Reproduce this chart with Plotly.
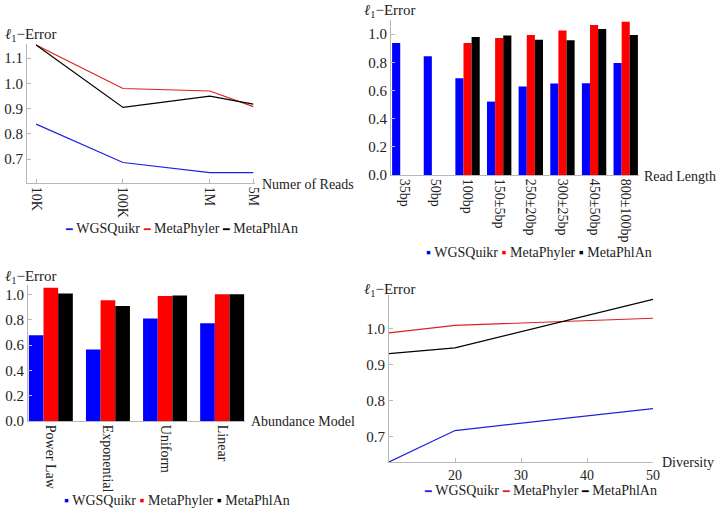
import plotly.graph_objects as go

# ---------------- data ----------------
series_names = ["WGSQuikr", "MetaPhyler", "MetaPhlAn"]
line_colors = ["#2020e0", "#e02020", "#000000"]
bar_colors = ["#0000ff", "#ff0000", "#000000"]

# panel 1: number of reads
reads_labels = ["10K", "100K", "1M", "5M"]
reads_pos = [0, 1, 2, 2.5]
reads_wgs = [0.839, 0.687, 0.647, 0.647]
reads_mphy = [1.152, 0.980, 0.970, 0.908]
reads_mphl = [1.152, 0.905, 0.950, 0.918]

# panel 2: read length
rl_labels = ["35bp", "50bp", "100bp", "150±5bp", "250±20bp", "300±25bp", "450±50bp", "800±100bp"]
rl_wgs = [0.936, 0.843, 0.687, 0.521, 0.628, 0.649, 0.651, 0.794]
rl_mphy = [None, None, 0.936, 0.972, 0.994, 1.026, 1.064, 1.087]
rl_mphl = [None, None, 0.979, 0.990, 0.960, 0.957, 1.036, 0.993]

# panel 3: abundance model
ab_labels = ["Power Law", "Exponential", "Uniform", "Linear"]
ab_wgs = [0.678, 0.565, 0.810, 0.773]
ab_mphy = [1.055, 0.955, 0.989, 1.003]
ab_mphl = [1.008, 0.910, 0.992, 1.003]

# panel 4: diversity
div_x = [10, 20, 50]
div_wgs = [0.628, 0.716, 0.777]
div_mphy = [0.989, 1.010, 1.030]
div_mphl = [0.931, 0.947, 1.083]

FONT = "Liberation Serif"
W, H = 718, 512

def px_x(p):
    return p / W

def px_y(p):
    return 1 - p / H

fig = go.Figure()

for name, col, vals in zip(series_names, line_colors, [reads_wgs, reads_mphy, reads_mphl]):
    fig.add_trace(go.Scatter(x=reads_pos, y=vals, mode="lines", name=name,
                             line=dict(color=col, width=1.2), xaxis="x", yaxis="y",
                             showlegend=False))
for name, col, vals in zip(series_names, bar_colors, [rl_wgs, rl_mphy, rl_mphl]):
    fig.add_trace(go.Bar(x=rl_labels, y=vals, name=name, marker=dict(color=col, line=dict(width=0)),
                         xaxis="x2", yaxis="y2", showlegend=False))
for name, col, vals in zip(series_names, bar_colors, [ab_wgs, ab_mphy, ab_mphl]):
    fig.add_trace(go.Bar(x=ab_labels, y=vals, name=name, marker=dict(color=col, line=dict(width=0)),
                         xaxis="x3", yaxis="y3", showlegend=False))
for name, col, vals in zip(series_names, line_colors, [div_wgs, div_mphy, div_mphl]):
    fig.add_trace(go.Scatter(x=div_x, y=vals, mode="lines", name=name,
                             line=dict(color=col, width=1.2), xaxis="x4", yaxis="y4",
                             showlegend=False))

axis_common = dict(showgrid=False, zeroline=False, showline=True, linecolor="#b8b8b8",
                   linewidth=1, ticks="inside", ticklen=4, tickcolor="#b8b8b8",
                   tickfont=dict(family=FONT, size=15, color="#222"))
xtick_font = dict(family=FONT, size=14, color="#222")

fig.update_layout(
    autosize=True,
    margin=dict(l=0, r=0, t=0, b=0, autoexpand=False),
    paper_bgcolor="white", plot_bgcolor="white",
    barmode="group", bargap=0.23,
    font=dict(family=FONT, color="#222"),
    xaxis=dict(axis_common, domain=[px_x(27), px_x(255)], range=[-0.105, 2.52],
               tickvals=reads_pos, ticktext=reads_labels, tickangle=90, anchor="y",
               tickfont=xtick_font),
    yaxis=dict(axis_common, domain=[px_y(183), px_y(44)], range=[0.606, 1.156],
               tickvals=[0.7, 0.8, 0.9, 1.0, 1.1], ticktext=["0.7", "0.8", "0.9", "1.0", "1.1"],
               anchor="x"),
    xaxis2=dict(axis_common, domain=[px_x(391), px_x(639)], range=[-0.42, 7.42],
                tickangle=90, anchor="y2", ticks="", tickfont=xtick_font),
    yaxis2=dict(axis_common, domain=[px_y(175), px_y(20)], range=[0, 1.10],
                tickvals=[0, 0.2, 0.4, 0.6, 0.8, 1.0],
                ticktext=["0.0", "0.2", "0.4", "0.6", "0.8", "1.0"], anchor="x2"),
    xaxis3=dict(axis_common, domain=[px_x(28), px_x(245)], range=[-0.4, 3.4],
                tickangle=90, anchor="y3", ticks="", tickfont=xtick_font),
    yaxis3=dict(axis_common, domain=[px_y(421), px_y(285)], range=[0, 1.076],
                tickvals=[0, 0.2, 0.4, 0.6, 0.8, 1.0],
                ticktext=["0.0", "0.2", "0.4", "0.6", "0.8", "1.0"], anchor="x3"),
    xaxis4=dict(axis_common, domain=[px_x(389), px_x(653)], range=[10, 50],
                tickvals=[20, 30, 40, 50], anchor="y4", tickfont=xtick_font),
    yaxis4=dict(axis_common, domain=[px_y(462), px_y(295)], range=[0.628, 1.095],
                tickvals=[0.7, 0.8, 0.9, 1.0], ticktext=["0.7", "0.8", "0.9", "1.0"], anchor="x4"),
)


def add_text(text, x, y, xanchor="left", yanchor="middle", size=14):
    fig.add_annotation(text=text, x=px_x(x), y=px_y(y), xref="paper", yref="paper",
                       xanchor=xanchor, yanchor=yanchor, showarrow=False,
                       font=dict(family=FONT, size=size, color="#222"))

ylab = "<i>ℓ</i><sub>1</sub>−Error"
add_text(ylab, 3, 24, yanchor="top", size=15)
add_text(ylab, 362, 0, yanchor="top", size=15)
add_text(ylab, 3, 266, yanchor="top", size=15)
add_text(ylab, 362, 279, yanchor="top", size=15)

add_text("Numer of Reads", 260, 184)
add_text("Read Length", 642, 176)
add_text("Abundance Model", 249, 421)
add_text("Diversity", 660, 462)


def legend_text(symbol, colors, sym_size):
    parts = []
    for name, col in zip(series_names, colors):
        parts.append(f'<span style="color:{col};font-size:{sym_size}px">{symbol}</span> {name}')
    return " ".join(parts)

add_text(legend_text("━", line_colors, 11), 181, 228, xanchor="center", size=14)
add_text(legend_text("▪", bar_colors, 14), 539, 252, xanchor="center", size=14)
add_text(legend_text("▪", bar_colors, 14), 177, 500, xanchor="center", size=14)
add_text(legend_text("━", line_colors, 11), 540, 490, xanchor="center", size=14)

fig.write_html(
    "out.html",
    config={"displayModeBar": False, "responsive": True},
    default_width="100vw",
    default_height="100vh",
    post_script="document.body.style.margin='0';document.body.style.overflow='hidden';"
                "document.documentElement.style.overflow='hidden';"
                "Plotly.Plots.resize(document.getElementById('{plot_id}'));",
)
